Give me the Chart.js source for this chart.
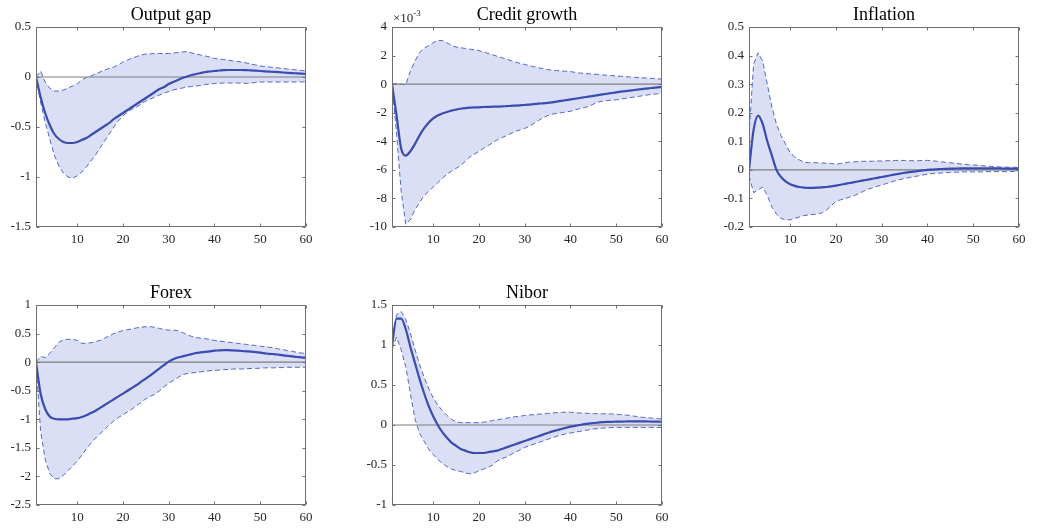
<!DOCTYPE html>
<html><head><meta charset="utf-8">
<script src="https://cdn.jsdelivr.net/npm/chart.js@4.4.0/dist/chart.umd.min.js"></script>
<style>
html,body{margin:0;padding:0;background:#fff;width:1038px;height:528px;overflow:hidden}
canvas{position:absolute}
</style></head><body>
<canvas id="c0"></canvas><canvas id="c1"></canvas><canvas id="c2"></canvas><canvas id="c3"></canvas><canvas id="c4"></canvas>
<script>
const HORIZON = [1,2,3,4,5,6,7,8,9,10,11,12,13,14,15,16,17,18,19,20,21,22,23,24,25,26,27,28,29,30,31,32,33,34,35,36,37,38,39,40,41,42,43,44,45,46,47,48,49,50,51,52,53,54,55,56,57,58,59,60];
const X_TICKS = [10,20,30,40,50,60];
const TITLES = ["Output gap","Credit growth","Inflation","Forex","Nibor"];

// Output gap
const OUT_MEAN = [0,-0.2,-0.36,-0.48,-0.57,-0.62,-0.65,-0.66,-0.66,-0.65,-0.63,-0.61,-0.58,-0.55,-0.52,-0.49,-0.46,-0.42,-0.39,-0.36,-0.33,-0.3,-0.27,-0.24,-0.21,-0.18,-0.15,-0.12,-0.1,-0.07,-0.05,-0.03,-0.01,0.005,0.02,0.03,0.04,0.05,0.055,0.06,0.065,0.068,0.07,0.07,0.07,0.07,0.068,0.066,0.063,0.06,0.057,0.054,0.051,0.048,0.045,0.042,0.039,0.036,0.033,0.03];
const OUT_HI = [0,0.06,-0.05,-0.11,-0.14,-0.14,-0.13,-0.11,-0.09,-0.07,-0.03,-0.005,0.01,0.03,0.05,0.07,0.086,0.1,0.12,0.15,0.17,0.19,0.205,0.22,0.23,0.232,0.235,0.235,0.235,0.235,0.24,0.245,0.25,0.255,0.24,0.23,0.22,0.21,0.2,0.185,0.18,0.175,0.17,0.16,0.155,0.15,0.14,0.13,0.12,0.11,0.105,0.1,0.095,0.09,0.085,0.08,0.075,0.07,0.065,0.06];
const OUT_LO = [0,-0.25,-0.45,-0.62,-0.78,-0.89,-0.96,-1.0,-1.01,-0.99,-0.95,-0.9,-0.84,-0.78,-0.71,-0.64,-0.57,-0.5,-0.44,-0.39,-0.35,-0.32,-0.3,-0.27,-0.24,-0.22,-0.2,-0.18,-0.16,-0.146,-0.13,-0.12,-0.11,-0.1,-0.095,-0.09,-0.085,-0.075,-0.07,-0.065,-0.063,-0.06,-0.06,-0.06,-0.06,-0.062,-0.064,-0.06,-0.055,-0.05,-0.05,-0.05,-0.05,-0.05,-0.05,-0.05,-0.05,-0.05,-0.05,-0.048];
const OUT_Y_TICKS = [-1.5,-1,-0.5,0,0.5];

// Credit growth (units of 1e-3)
const CG_MEAN = [0,-2.2,-4.5,-5.0,-4.7,-4.2,-3.6,-3.1,-2.7,-2.4,-2.2,-2.05,-1.95,-1.85,-1.78,-1.72,-1.68,-1.65,-1.63,-1.62,-1.6,-1.59,-1.58,-1.57,-1.56,-1.54,-1.52,-1.5,-1.48,-1.46,-1.43,-1.4,-1.37,-1.34,-1.31,-1.27,-1.22,-1.17,-1.12,-1.07,-1.02,-0.97,-0.92,-0.87,-0.82,-0.77,-0.72,-0.67,-0.62,-0.57,-0.53,-0.49,-0.45,-0.41,-0.37,-0.33,-0.29,-0.26,-0.23,-0.2];
const CG_HI = [0,0.05,0,-0.05,0.9,1.6,2.2,2.5,2.7,2.9,3.05,3.05,2.9,2.7,2.6,2.55,2.5,2.45,2.4,2.35,2.25,2.15,2.05,1.95,1.85,1.75,1.65,1.55,1.45,1.38,1.3,1.22,1.15,1.08,1.02,0.98,0.95,0.92,0.9,0.88,0.82,0.78,0.75,0.72,0.7,0.68,0.65,0.62,0.6,0.57,0.55,0.53,0.5,0.48,0.46,0.44,0.42,0.4,0.38,0.35];
const CG_LO = [0,-3.5,-7.5,-9.8,-9.5,-8.8,-8.3,-7.8,-7.5,-7.2,-6.9,-6.6,-6.3,-6.1,-5.9,-5.7,-5.4,-5.1,-4.9,-4.7,-4.5,-4.3,-4.1,-3.9,-3.75,-3.6,-3.45,-3.3,-3.2,-3.1,-2.95,-2.75,-2.55,-2.35,-2.2,-2.1,-2.05,-2.0,-1.95,-1.9,-1.8,-1.72,-1.65,-1.55,-1.4,-1.25,-1.2,-1.15,-1.12,-1.1,-1.05,-1.0,-0.95,-0.9,-0.85,-0.8,-0.75,-0.7,-0.68,-0.65];
const CG_Y_TICKS = [-10,-8,-6,-4,-2,0,2,4];
const CG_EXPONENT = "-3";

// Inflation
const INF_MEAN = [0,0.14,0.19,0.16,0.1,0.05,0.0,-0.025,-0.04,-0.05,-0.056,-0.06,-0.062,-0.063,-0.063,-0.062,-0.061,-0.06,-0.058,-0.055,-0.052,-0.049,-0.046,-0.043,-0.04,-0.037,-0.034,-0.031,-0.028,-0.025,-0.022,-0.019,-0.016,-0.013,-0.01,-0.008,-0.006,-0.004,-0.002,0.0,0.001,0.002,0.003,0.0035,0.004,0.0045,0.005,0.005,0.005,0.005,0.005,0.005,0.005,0.005,0.005,0.005,0.0045,0.0045,0.004,0.004];
const INF_HI = [0.12,0.37,0.41,0.38,0.3,0.22,0.16,0.12,0.09,0.06,0.045,0.035,0.027,0.025,0.025,0.025,0.024,0.023,0.022,0.02,0.022,0.025,0.027,0.028,0.029,0.03,0.03,0.03,0.031,0.031,0.032,0.032,0.033,0.033,0.033,0.032,0.032,0.032,0.033,0.033,0.032,0.03,0.028,0.026,0.025,0.023,0.021,0.019,0.018,0.017,0.016,0.015,0.013,0.012,0.011,0.01,0.01,0.009,0.009,0.008];
const INF_LO = [-0.02,-0.08,-0.07,-0.06,-0.09,-0.13,-0.155,-0.17,-0.175,-0.175,-0.17,-0.165,-0.16,-0.158,-0.156,-0.155,-0.15,-0.14,-0.125,-0.11,-0.105,-0.1,-0.095,-0.09,-0.083,-0.075,-0.068,-0.063,-0.058,-0.053,-0.048,-0.043,-0.038,-0.034,-0.03,-0.027,-0.024,-0.021,-0.018,-0.015,-0.013,-0.012,-0.011,-0.01,-0.009,-0.008,-0.008,-0.007,-0.007,-0.007,-0.007,-0.007,-0.006,-0.006,-0.006,-0.006,-0.006,-0.006,-0.006,-0.006];
const INF_Y_TICKS = [-0.2,-0.1,0,0.1,0.2,0.3,0.4,0.5];

// Forex
const FX_MEAN = [0,-0.55,-0.82,-0.95,-0.99,-1.0,-1.0,-1.0,-0.99,-0.98,-0.96,-0.93,-0.89,-0.85,-0.8,-0.75,-0.7,-0.65,-0.6,-0.55,-0.5,-0.45,-0.4,-0.34,-0.29,-0.23,-0.17,-0.11,-0.05,0.01,0.05,0.08,0.1,0.12,0.14,0.16,0.17,0.18,0.19,0.2,0.205,0.21,0.21,0.205,0.2,0.195,0.19,0.185,0.175,0.165,0.155,0.145,0.14,0.13,0.12,0.11,0.1,0.09,0.085,0.075];
const FX_HI = [0,0.1,0.08,0.15,0.25,0.35,0.39,0.4,0.4,0.38,0.33,0.33,0.34,0.36,0.38,0.42,0.46,0.5,0.53,0.55,0.57,0.58,0.6,0.61,0.62,0.62,0.61,0.59,0.57,0.56,0.56,0.55,0.52,0.48,0.45,0.43,0.42,0.41,0.4,0.38,0.37,0.36,0.35,0.34,0.33,0.32,0.31,0.3,0.29,0.28,0.27,0.26,0.25,0.23,0.22,0.2,0.19,0.17,0.16,0.15];
const FX_LO = [0,-1.2,-1.7,-1.95,-2.04,-2.04,-1.98,-1.9,-1.82,-1.73,-1.63,-1.52,-1.42,-1.33,-1.25,-1.18,-1.1,-1.03,-0.97,-0.92,-0.87,-0.82,-0.76,-0.7,-0.64,-0.6,-0.56,-0.5,-0.43,-0.37,-0.32,-0.27,-0.22,-0.2,-0.19,-0.18,-0.17,-0.16,-0.15,-0.14,-0.14,-0.13,-0.13,-0.12,-0.12,-0.12,-0.115,-0.11,-0.11,-0.105,-0.1,-0.1,-0.1,-0.095,-0.095,-0.09,-0.09,-0.09,-0.09,-0.09];
const FX_Y_TICKS = [-2.5,-2,-1.5,-1,-0.5,0,0.5,1];

// Nibor
const NB_MEAN = [1.0,1.33,1.33,1.2,0.98,0.78,0.58,0.4,0.24,0.11,0.0,-0.09,-0.16,-0.22,-0.26,-0.3,-0.32,-0.34,-0.35,-0.35,-0.35,-0.34,-0.33,-0.32,-0.3,-0.28,-0.26,-0.24,-0.22,-0.2,-0.18,-0.16,-0.14,-0.12,-0.1,-0.08,-0.065,-0.05,-0.035,-0.02,-0.01,0.0,0.01,0.018,0.025,0.03,0.035,0.038,0.04,0.042,0.043,0.044,0.045,0.045,0.045,0.045,0.044,0.043,0.042,0.04];
const NB_HI = [1.05,1.38,1.42,1.32,1.15,0.95,0.76,0.6,0.46,0.34,0.25,0.18,0.12,0.07,0.04,0.03,0.03,0.03,0.03,0.03,0.035,0.045,0.055,0.065,0.075,0.085,0.095,0.105,0.11,0.12,0.125,0.13,0.135,0.14,0.145,0.15,0.155,0.158,0.16,0.16,0.155,0.15,0.148,0.145,0.143,0.14,0.14,0.14,0.138,0.135,0.13,0.125,0.12,0.11,0.1,0.095,0.09,0.085,0.08,0.075];
const NB_LO = [0.95,1.1,0.94,0.73,0.4,0.08,-0.1,-0.2,-0.3,-0.37,-0.43,-0.48,-0.52,-0.55,-0.57,-0.58,-0.6,-0.61,-0.6,-0.57,-0.55,-0.53,-0.5,-0.45,-0.42,-0.4,-0.37,-0.34,-0.31,-0.28,-0.26,-0.24,-0.22,-0.2,-0.18,-0.16,-0.14,-0.125,-0.11,-0.1,-0.09,-0.08,-0.07,-0.06,-0.05,-0.045,-0.04,-0.035,-0.03,-0.03,-0.03,-0.03,-0.03,-0.03,-0.03,-0.03,-0.03,-0.03,-0.03,-0.03];
const NB_Y_TICKS = [-1,-0.5,0,0.5,1,1.5];

const PANELS = [
  {title:TITLES[0], mean:OUT_MEAN, hi:OUT_HI, lo:OUT_LO, yt:OUT_Y_TICKS},
  {title:TITLES[1], mean:CG_MEAN, hi:CG_HI, lo:CG_LO, yt:CG_Y_TICKS, exp:CG_EXPONENT},
  {title:TITLES[2], mean:INF_MEAN, hi:INF_HI, lo:INF_LO, yt:INF_Y_TICKS},
  {title:TITLES[3], mean:FX_MEAN, hi:FX_HI, lo:FX_LO, yt:FX_Y_TICKS},
  {title:TITLES[4], mean:NB_MEAN, hi:NB_HI, lo:NB_LO, yt:NB_Y_TICKS}
];

// layout
const POS = [[36,27],[392,27],[749,27],[36,305],[392,305]];
const YW = 40, TH = 27, XH = 22, PW = 270, PH = 200, RP = 14;
const FONT = "'Liberation Serif','Times New Roman',serif";
const TICK_COLOR = '#262626';

const boxPlugin = {
  id:'mbox',
  afterDraw(chart, args, opts){
    const {ctx, chartArea:a} = chart;
    const x = chart.scales.x, y = chart.scales.y;
    ctx.save();
    ctx.strokeStyle = '#707070'; ctx.lineWidth = 1;
    const L = Math.round(a.left)+0.5, R = Math.round(a.right)-0.5, T = Math.round(a.top)+0.5, B = Math.round(a.bottom)-0.5;
    ctx.strokeRect(L, T, R-L, B-T);
    ctx.beginPath();
    x.ticks.forEach(t => { const p = Math.round(x.getPixelForValue(t.value))+0.5; ctx.moveTo(p,B); ctx.lineTo(p,B-3); ctx.moveTo(p,T); ctx.lineTo(p,T+3); });
    y.ticks.forEach(t => { const p = Math.round(y.getPixelForValue(t.value))+0.5; ctx.moveTo(L,p); ctx.lineTo(L+3,p); ctx.moveTo(R,p); ctx.lineTo(R-3,p); });
    ctx.stroke();
    if (opts && opts.exp) {
      ctx.fillStyle = TICK_COLOR;
      ctx.textBaseline = 'alphabetic';
      ctx.font = "13px " + FONT;
      const base = "\u00d710";
      ctx.fillText(base, a.left + 1, a.top - 5);
      const w = ctx.measureText(base).width;
      ctx.font = "9px " + FONT;
      ctx.fillText(opts.exp, a.left + 1 + w, a.top - 11);
    }
    ctx.restore();
  }
};

PANELS.forEach((p, i) => {
  const cv = document.getElementById('c'+i);
  const [pl, pt] = POS[i];
  cv.width = YW + PW + RP; cv.height = TH + PH + XH;
  cv.style.left = (pl - YW) + 'px'; cv.style.top = (pt - TH) + 'px';
  const pts = arr => HORIZON.map((h, k) => ({x:h, y:arr[k]}));
  new Chart(cv, {
    type:'line',
    data:{ datasets:[
      {data:pts(p.mean), borderColor:'#3a4caf', borderWidth:2.2, pointRadius:0, tension:0.3, cubicInterpolationMode:'monotone', fill:false, order:0},
      {data:[{x:HORIZON[0], y:0},{x:HORIZON[HORIZON.length-1], y:0}], borderColor:'#7f7f7f', borderWidth:1.2, pointRadius:0, fill:false, order:1},
      {data:pts(p.hi), borderColor:'#5566c4', borderWidth:1, borderDash:[5,3], pointRadius:0, tension:0, fill:'+1', backgroundColor:'rgba(218,223,246,1)', order:2},
      {data:pts(p.lo), borderColor:'#5566c4', borderWidth:1, borderDash:[5,3], pointRadius:0, tension:0, fill:false, order:3}
    ]},
    options:{
      responsive:false, animation:false, events:[],
      layout:{padding:{left:0, right:RP, top:0, bottom:0}},
      plugins:{
        legend:{display:false}, tooltip:{enabled:false},
        filler:{drawTime:'beforeDatasetsDraw'},
        title:{display:true, text:p.title, fullSize:false, color:'#000', font:{family:FONT, size:18, weight:'normal', lineHeight:1.2}, padding:{top:4, bottom:1.4}},
        mbox:{exp:p.exp || null}
      },
      scales:{
        x:{type:'linear', min:HORIZON[0], max:HORIZON[HORIZON.length-1], grid:{display:false, drawTicks:false}, border:{display:false},
           ticks:{color:TICK_COLOR, font:{family:FONT, size:13}, padding:5, maxRotation:0, autoSkip:false, callback:v=>String(v)},
           afterBuildTicks:s=>{ s.ticks = X_TICKS.map(v=>({value:v})); },
           afterFit:s=>{ s.height = XH; }},
        y:{type:'linear', min:p.yt[0], max:p.yt[p.yt.length-1], grid:{display:false, drawTicks:false}, border:{display:false},
           ticks:{color:TICK_COLOR, font:{family:FONT, size:13}, padding:5, autoSkip:false, callback:v=>String(v)},
           afterBuildTicks:s=>{ s.ticks = p.yt.map(v=>({value:v})); },
           afterFit:s=>{ s.width = YW; }}
      }
    },
    plugins:[boxPlugin]
  });
});
</script>
</body></html>
